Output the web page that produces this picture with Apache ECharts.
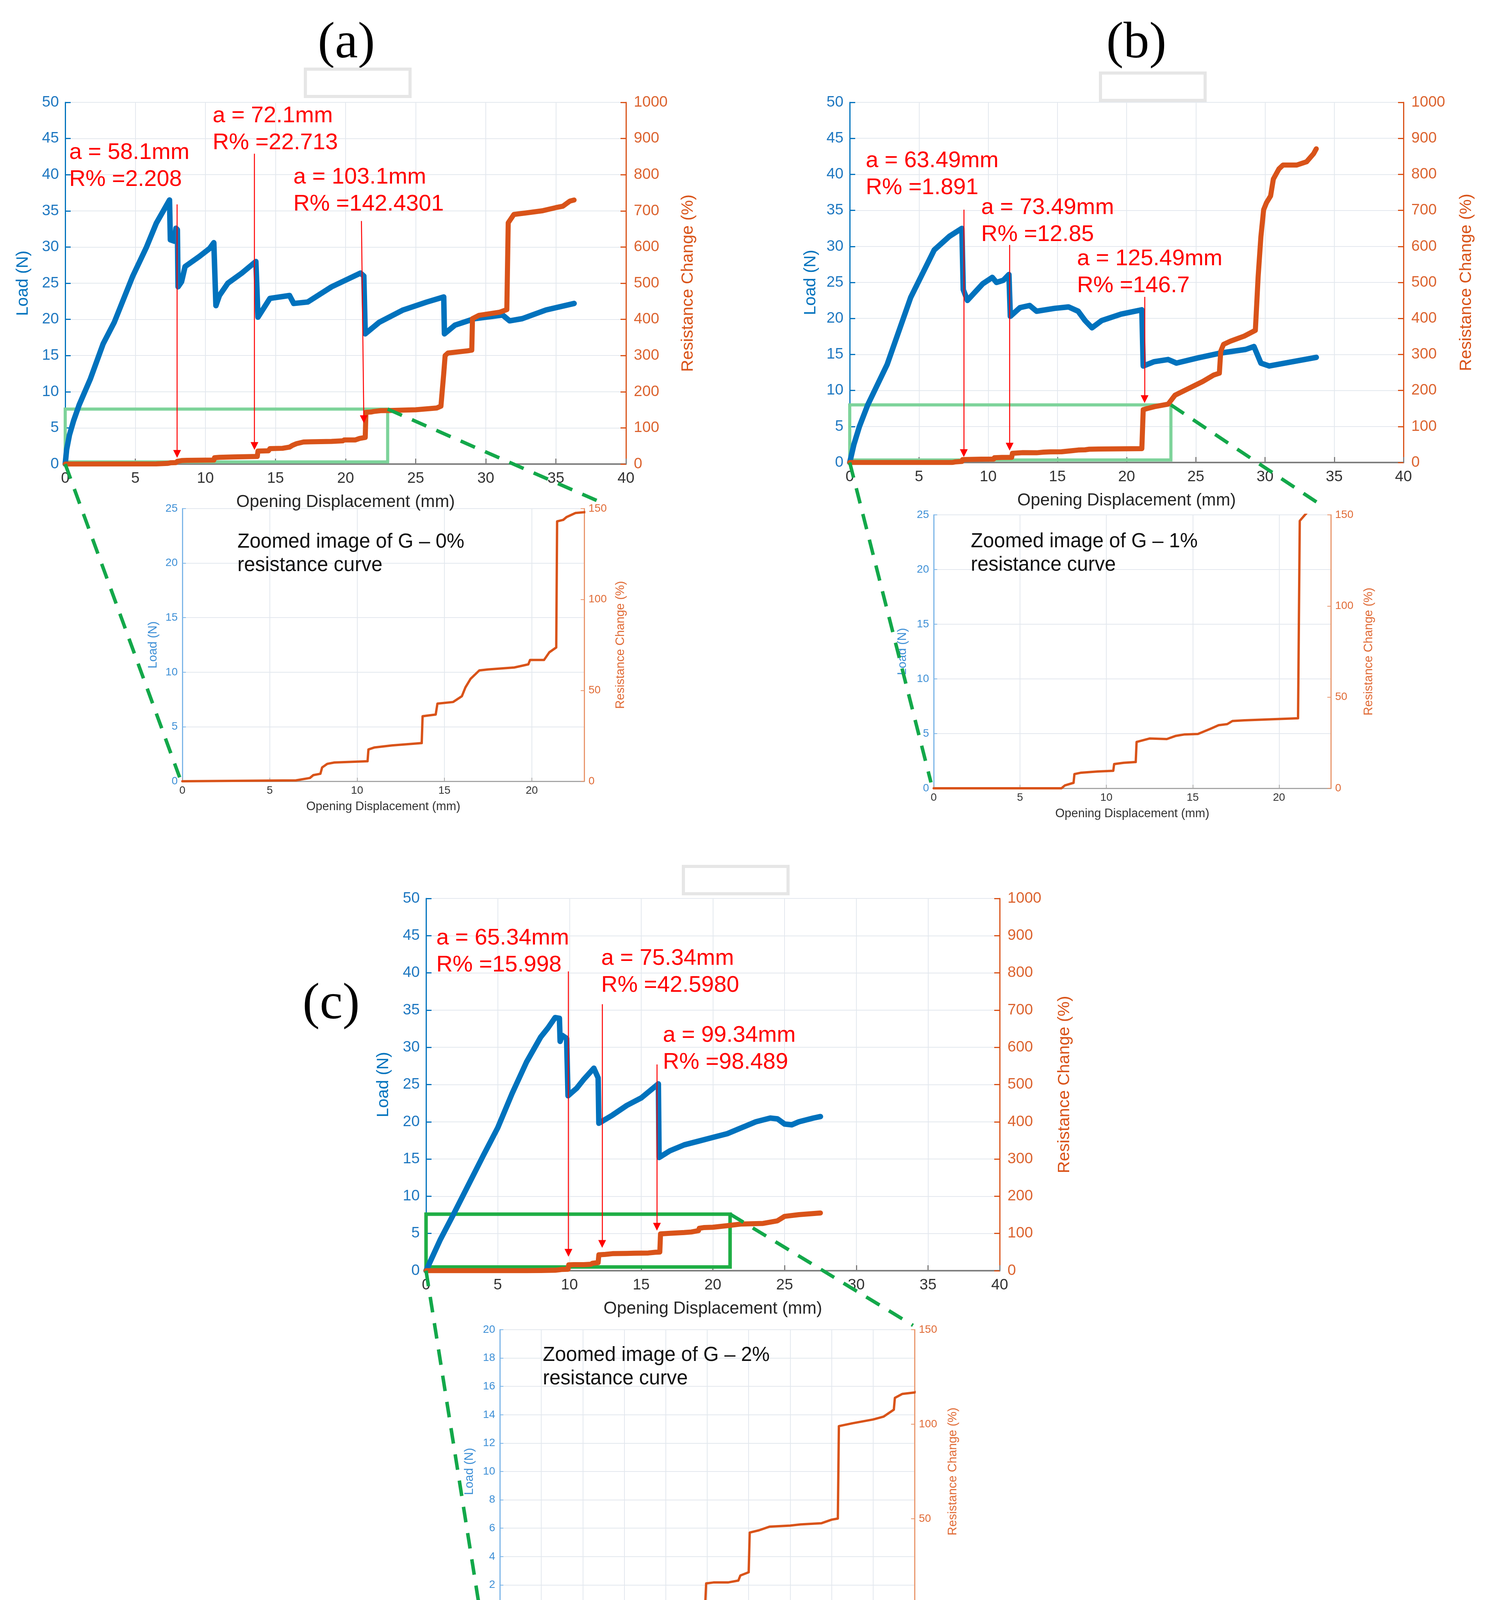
<!DOCTYPE html>
<html><head><meta charset="utf-8">
<script src="https://cdn.jsdelivr.net/npm/echarts@6.0.0/dist/echarts.min.js"></script>
<style>html,body{margin:0;padding:0;background:#fff}#c{width:3813px;height:4288px}</style>
</head><body><div id="c"></div>
<script>
// ---------------- DATA ----------------
// (a) G-0%
const aLoad = [[0,0],[0.1,2],[0.3,4],[0.6,6],[1.0,8.2],[1.8,11.8],[2.7,16.6],[3.5,19.6],[4.8,25.9],[5.8,30],[6.5,33.3],[7.0,35],[7.44,36.5],[7.5,31],[7.8,30.8],[7.9,32.6],[8.0,32.4],[8.05,24.5],[8.3,25.2],[8.55,27.3],[9.57,28.7],[10.3,29.8],[10.6,30.6],[10.75,21.9],[11,23.3],[11.6,25],[12.6,26.4],[13.6,28],[13.75,20.3],[14.6,22.9],[16.0,23.3],[16.3,22.2],[17.3,22.4],[19.0,24.5],[21.06,26.4],[21.3,26],[21.4,18],[22.4,19.6],[24.1,21.3],[25.8,22.4],[27.0,23.1],[27.05,18],[27.8,19.2],[29.2,20.1],[31.2,20.6],[31.7,19.8],[32.6,20.1],[34.3,21.3],[36.3,22.2]];
const aRes = [[0,0],[6.5,0.5],[7.3,1.8],[7.5,3.4],[7.9,4.1],[8.0,7.6],[8.3,9.6],[8.7,10.3],[10.6,11],[10.65,17.5],[11,18.6],[12,19.7],[13.7,21],[13.75,35.8],[14.5,36.7],[14.6,42.7],[15.5,43.6],[16.0,46.8],[16.2,51.6],[16.5,56.4],[17.0,61],[17.5,61.5],[19.0,62.6],[19.8,64.3],[19.9,66.7],[20.7,66.7],[21.0,70.9],[21.4,73.6],[21.45,143],[21.8,143.8],[22.0,145.4],[22.5,147.6],[23,148],[25,150],[26.5,155],[26.8,160],[27.0,250],[27.1,300],[27.3,307],[28.7,313],[29.0,315],[29.05,402],[29.5,411],[31,420],[31.5,427],[31.6,667],[32,690],[33,695],[34,700],[35,709],[35.5,713],[36,727],[36.3,730]];
const aCrack = ['a = 58.1mm','a = 72.1mm','a = 103.1mm'];
const aRpct  = ['R% =2.208','R% =22.713','R% =142.4301'];

// (b) G-1%
const bLoad = [[0,0],[0.3,2.5],[0.7,5],[1.3,8],[2.7,13.6],[4.4,22.9],[6.1,29.5],[7.2,31.4],[8.1,32.5],[8.2,24],[8.5,22.5],[9.6,24.8],[10.3,25.7],[10.6,25],[11.1,25.3],[11.5,26.1],[11.6,20.3],[12.3,21.5],[13.0,21.8],[13.5,21],[14.8,21.4],[15.8,21.6],[16.5,21],[17.0,19.7],[17.5,18.7],[18.2,19.7],[19.6,20.6],[21.1,21.2],[21.2,13.4],[22.0,14],[23.0,14.3],[23.6,13.8],[25.1,14.5],[26.8,15.2],[28.6,15.7],[29.2,16.1],[29.7,13.8],[30.3,13.4],[32.0,14.0],[33.7,14.6]];
const bRes = [[0,0],[7.4,0],[7.6,1.6],[8.1,3],[8.15,7.8],[8.5,8.5],[9.5,9.2],[10.4,9.6],[10.45,13.3],[11,14],[11.7,14.4],[11.75,25.4],[12.5,27.3],[13.5,27],[14,28.7],[14.5,29.5],[15.3,29.8],[16,32.5],[16.5,34.6],[17.0,35.2],[17.3,36.9],[18,37.3],[21.1,38.4],[21.2,146.7],[21.5,150],[22,155],[23,162],[23.5,187],[24.5,206],[25.5,225],[26.3,243],[26.7,248],[26.8,309],[27,328],[27.5,337],[28.5,351],[29.3,367],[29.5,515],[29.7,627],[29.9,702],[30.1,721],[30.4,740],[30.6,787],[31,815],[31.3,826],[32.3,826],[33,835],[33.5,857],[33.7,871]];
const bCrack = ['a = 63.49mm','a = 73.49mm','a = 125.49mm'];
const bRpct  = ['R% =1.891','R% =12.85','R% =146.7'];

// (c) G-2%
const cLoad = [[0,0],[0.5,2.1],[1,4.2],[2,7.9],[3,11.7],[4,15.5],[5,19.2],[6,23.8],[7,28],[8,31.4],[8.5,32.6],[9,34],[9.3,33.9],[9.35,30.8],[9.5,31.6],[9.8,31.2],[9.9,23.5],[10.5,24.5],[11,25.7],[11.7,27.2],[12.0,25.9],[12.05,19.8],[13,20.9],[14,22.2],[15,23.2],[16.2,25.1],[16.25,15.2],[17,16.1],[18,16.9],[19,17.4],[20,17.9],[21,18.4],[22,19.2],[23,20],[24,20.5],[24.5,20.4],[25,19.7],[25.5,19.6],[26,20],[27,20.5],[27.5,20.7]];
const cRes = [[0,0],[7,0],[8,0.6],[9,1.2],[9.3,2.5],[9.5,3.5],[9.9,4],[9.95,15.8],[10.3,16.3],[11,16.3],[11.5,17.3],[11.6,20],[12.0,21.7],[12.05,42.7],[12.5,43.9],[13,45.8],[14,46.4],[14.5,47],[15.5,47.6],[16,49.5],[16.3,50.1],[16.35,99],[17,100.5],[18,102.5],[18.5,104],[19.0,107.7],[19.05,113.9],[19.4,116],[20,116.8],[21,121],[22,125.5],[23.5,127],[24.5,134],[25,146],[26,150.6],[27.5,155]];
const cCrack = ['a = 65.34mm','a = 75.34mm','a = 99.34mm'];
const cRpct  = ['R% =15.998','R% =42.5980','R% =98.489'];

const panelTitles = ['(a)','(b)','(c)'];
const zoomTitles = ['Zoomed image of G – 0%\nresistance curve','Zoomed image of G – 1%\nresistance curve','Zoomed image of G – 2%\nresistance curve'];
const mainXTicks = {min:0,max:40,step:5};
const loadTicks = {min:0,max:50,step:5};
const resTicks = {min:0,max:1000,step:100};

// ---------------- LAYOUT ----------------
const FONT = 'Liberation Sans, Arial, sans-serif';
const BLUE = '#0072BD', ORANGE = '#D95319';
const boxes = {
  mainA:{l:167,t:262,r:1603,b:1188}, insA:{l:467,t:1302,r:1496,b:2000},
  mainB:{l:2176,t:262,r:3594,b:1184}, insB:{l:2391,t:1318,r:3408,b:2018},
  mainC:{l:1091,t:2300,r:2560,b:3253}, insC:{l:1280,t:3404,r:2342,b:4130}
};
const notePos = {
  a:[[0.27,41.15],[10.5,46.25],[16.26,37.75]],
  b:[[1.14,40.0],[9.48,33.5],[16.4,26.4]],
  c:[[0.7,42.85],[12.2,40.1],[16.5,29.75]]
};
const arrowPos = {
  a:[[[7.98,35.9],[7.98,1.4]],[[13.5,42.9],[13.5,2.5]],[[21.13,33.6],[21.3,6.2]]],
  b:[[[8.24,35.1],[8.24,1.3]],[[11.55,30.2],[11.55,2.2]],[[21.3,23],[21.3,8.8]]],
  c:[[[9.93,40.2],[9.93,2.4]],[[12.28,35.8],[12.28,3.6]],[[16.1,27.7],[16.1,5.9]]]
};
const zoomBox = {a:[[0,0.3],[23,7.6]], b:[[0,0.35],[23.2,8.0]], c:[[0,0.5],[21.2,7.6]]};

function grid(b){return {left:b.l, top:b.t, width:b.r-b.l, height:b.b-b.t};}
const GRIDLINE = {show:true, lineStyle:{color:'#e3e8ee', width:2}};
const plain = v => String(v);

function mainX(i){return {type:'value', gridIndex:i, min:mainXTicks.min, max:mainXTicks.max, interval:mainXTicks.step,
  name:'Opening Displacement (mm)', nameLocation:'middle', nameGap:76,
  nameTextStyle:{fontSize:44, color:'#262626', fontFamily:FONT},
  axisLine:{show:true, onZero:false, lineStyle:{color:'#7f7f7f', width:4}},
  axisTick:{show:true, inside:true, length:14, lineStyle:{color:'#7f7f7f', width:3}},
  axisLabel:{fontSize:39, color:'#333', margin:18, fontFamily:FONT, formatter:plain},
  splitLine:GRIDLINE};}
function mainYL(i,gap){return {type:'value', gridIndex:i, position:'left', min:loadTicks.min, max:loadTicks.max, interval:loadTicks.step,
  name:'Load (N)', nameLocation:'middle', nameGap:gap,
  nameTextStyle:{fontSize:43, color:BLUE, fontFamily:FONT},
  axisLine:{show:true, lineStyle:{color:BLUE, width:3}},
  axisTick:{show:true, inside:true, length:14, lineStyle:{color:BLUE, width:3}},
  axisLabel:{fontSize:39, color:'#1f78c1', margin:16, fontFamily:FONT, formatter:plain},
  splitLine:GRIDLINE};}
function mainYR(i,gap){return {type:'value', gridIndex:i, position:'right', min:resTicks.min, max:resTicks.max, interval:resTicks.step,
  name:'Resistance Change (%)', nameLocation:'middle', nameGap:gap,
  nameTextStyle:{fontSize:43, color:ORANGE, fontFamily:FONT},
  axisLine:{show:true, lineStyle:{color:ORANGE, width:3}},
  axisTick:{show:true, inside:true, length:14, lineStyle:{color:ORANGE, width:3}},
  axisLabel:{fontSize:39, color:'#dc6430', margin:20, fontFamily:FONT, formatter:plain},
  splitLine:{show:false}};}
function insX(i,max,step){return {type:'value', gridIndex:i, min:0, max:max, interval:step,
  name:'Opening Displacement (mm)', nameLocation:'middle', nameGap:50,
  nameTextStyle:{fontSize:31, color:'#333', fontFamily:FONT},
  axisLine:{show:true, onZero:false, lineStyle:{color:'#a6a6a6', width:3}},
  axisTick:{show:true, inside:true, length:9, lineStyle:{color:'#a6a6a6', width:2}},
  axisLabel:{fontSize:28, color:'#333', margin:10, fontFamily:FONT, formatter:plain, showMaxLabel: max%step===0},
  splitLine:GRIDLINE};}
function insYL(i,max,step,gap){return {type:'value', gridIndex:i, position:'left', min:0, max:max, interval:step,
  name:'Load (N)', nameLocation:'middle', nameGap:gap,
  nameTextStyle:{fontSize:31, color:'#3d8fd6', fontFamily:FONT},
  axisLine:{show:true, lineStyle:{color:'#7db6e8', width:3}},
  axisTick:{show:true, inside:true, length:9, lineStyle:{color:'#7db6e8', width:2}},
  axisLabel:{fontSize:28, color:'#3d8fd6', margin:12, fontFamily:FONT, formatter:plain},
  splitLine:GRIDLINE};}
function insYR(i,gap){return {type:'value', gridIndex:i, position:'right', min:0, max:150, interval:50,
  name:'Resistance Change (%)', nameLocation:'middle', nameGap:gap,
  nameTextStyle:{fontSize:31, color:'#e06a35', fontFamily:FONT},
  axisLine:{show:true, lineStyle:{color:'#e9976d', width:3}},
  axisTick:{show:true, inside:true, length:9, lineStyle:{color:'#e9976d', width:2}},
  axisLabel:{fontSize:28, color:'#e06a35', margin:11, fontFamily:FONT, formatter:plain},
  splitLine:{show:false}};}

function loadSeries(xi, yi, data, key, crack, rpct, boxColor, boxW){
  return {type:'line', xAxisIndex:xi, yAxisIndex:yi, data:data, symbol:'none', silent:true,
    lineStyle:{color:BLUE, width:14, join:'round', cap:'round'}, itemStyle:{color:BLUE}, z:2,
    markLine:{silent:true, symbol:['none','triangle'], symbolSize:20, animation:false,
      lineStyle:{color:'#ff0000', width:2.5, type:'solid'}, label:{show:false},
      data:arrowPos[key].map(p=>[{coord:p[0]},{coord:p[1]}])},
    markPoint:{silent:true, symbol:'circle', symbolSize:1, itemStyle:{color:'rgba(0,0,0,0)'}, animation:false,
      label:{show:true, position:'right', distance:0, color:'#ff0000', fontSize:58, lineHeight:69, fontFamily:FONT, align:'left'},
      data:notePos[key].map((p,k)=>({coord:p, label:{formatter:crack[k]+'\n'+rpct[k]}}))},
    markArea:{silent:true, animation:false, label:{show:false},
      itemStyle:{color:'rgba(0,0,0,0)', borderColor:boxColor, borderWidth:boxW},
      data:[[{coord:zoomBox[key][0]},{coord:zoomBox[key][1]}]]}
  };
}
function resSeries(xi, yi, data, w){
  return {type:'line', xAxisIndex:xi, yAxisIndex:yi, data:data, symbol:'none', silent:true, clip:true,
    lineStyle:{color:ORANGE, width:w, join:'round', cap:'round'}, itemStyle:{color:ORANGE}, z:3};
}

const chart = echarts.init(document.getElementById('c'), null, {renderer:'canvas'});
chart.setOption({
  animation:false, backgroundColor:'#ffffff',
  grid:[grid(boxes.mainA), grid(boxes.insA), grid(boxes.mainB), grid(boxes.insB), grid(boxes.mainC), grid(boxes.insC)],
  xAxis:[mainX(0), insX(1,23,5), mainX(2), insX(3,23,5), mainX(4), insX(5,20,2)],
  yAxis:[mainYL(0,86), mainYR(0,138), insYL(1,25,5,59), insYR(1,78),
         mainYL(2,78), mainYR(2,140), insYL(3,25,5,64), insYR(3,82),
         mainYL(4,87), mainYR(4,145), insYL(5,20,2,62), insYR(5,83)],
  series:[
    loadSeries(0,0,aLoad,'a',aCrack,aRpct,'#7dd39a',8), resSeries(0,1,aRes,13), resSeries(1,3,aRes,6),
    loadSeries(2,4,bLoad,'b',bCrack,bRpct,'#7dd39a',8), resSeries(2,5,bRes,13), resSeries(3,7,bRes,6),
    loadSeries(4,8,cLoad,'c',cCrack,cRpct,'#1fae45',9), resSeries(4,9,cRes,13), resSeries(5,11,cRes,6)
  ]
});

// connectors & decorations (pixel positions from the library's own scales)
const px = (g, p) => chart.convertToPixel({gridIndex:g}, p);
const DASH = {stroke:'#13a84a', lineWidth:9, lineDash:[40,28]};
function dashed(p1, p2){return {type:'line', z:100, silent:true, shape:{x1:p1[0],y1:p1[1],x2:p2[0],y2:p2[1]}, style:DASH};}
function off(p, dx, dy){return [p[0]+dx, p[1]+dy];}
const g = [];
g.push(dashed(px(0,[0,0]), off(px(1,[0,0]),-7,-10)));
g.push(dashed(px(0,zoomBox.a[1]), off(px(1,[23,25]),45,-15)));
g.push(dashed(px(2,[0,0]), off(px(3,[0,0]),-7,-15)));
g.push(dashed(px(2,zoomBox.b[1]), off(px(3,[23,25]),-28,-27)));
g.push(dashed(px(4,[0,0]), off(px(5,[0,0]),-55,-32)));
g.push(dashed(px(4,zoomBox.c[1]), off(px(5,[20,20]),-4,-11)));

const titlePos = [[887,112],[2910,112],[848,2572]];
panelTitles.forEach((t,k)=>g.push({type:'text', x:titlePos[k][0], y:titlePos[k][1], z:50, silent:true,
  style:{text:t, fontSize:132, fontFamily:'Liberation Serif, Times New Roman, serif', fill:'#000', align:'center', verticalAlign:'middle'}}));
const holderPos = [[782,177],[2818,187],[1750,2218]];
holderPos.forEach(p=>g.push({type:'rect', z:50, silent:true, shape:{x:p[0],y:p[1],width:268,height:70},
  style:{fill:'#ffffff', stroke:'#e6e6e6', lineWidth:8}}));
const zoomTextPos = [[608,1358],[2486,1357],[1390,3440]];
zoomTitles.forEach((t,k)=>g.push({type:'text', x:zoomTextPos[k][0], y:zoomTextPos[k][1], z:50, silent:true,
  style:{text:t, fontSize:51, lineHeight:60, fontFamily:FONT, fill:'#111', align:'left', verticalAlign:'top'}}));

chart.setOption({graphic:g});
</script></body></html>
